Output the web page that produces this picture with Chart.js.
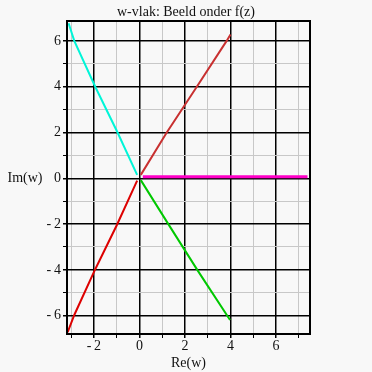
<!DOCTYPE html>
<html>
<head>
<meta charset="utf-8">
<script src="https://cdn.jsdelivr.net/npm/chart.js@4/dist/chart.umd.min.js"></script>
<style>
  html, body { margin: 0; padding: 0; background: #f8f8f8; }
  #wrap { width: 372px; height: 372px; }
</style>
</head>
<body>
<div id="wrap"><canvas id="plot" width="372" height="372"></canvas></div>
<script>
// curve samples (Re, Im)
const cyanRe = [-0.1, -0.96, -1.94, -2.86, -3.11];
const cyanIm = [0.15, 2, 4, 6, 6.77];

const redUpRe = [0.06, 1.2, 2.52, 3.83, 4.0];
const redUpIm = [0.15, 2, 4, 6, 6.28];

const redLowRe = [-0.1, -0.99, -1.94, -2.86, -3.15];
const redLowIm = [-0.1, -2.04, -3.97, -5.97, -6.72];

const greenRe = [0.06, 1.27, 2.54, 3.98];
const greenIm = [-0.08, -2, -4, -6.19];

const magentaRe = [0.15, 7.38];
const magentaIm = [0.07, 0.07];

const xRange = [-3.18, 7.49];
const yRange = [-6.8, 6.87];

const titleText = 'w-vlak: Beeld onder f(z)';

function pts(xs, ys) {
    return xs.map((x, i) => ({ x: x, y: ys[i] }));
}

function makeLine(xs, ys, color, width) {
    return {
        data: pts(xs, ys),
        showLine: true,
        borderColor: color,
        borderWidth: width,
        pointRadius: 0,
        fill: false,
        tension: 0
    };
}

function fmt(v) {
    if (v % 2 !== 0) return '';
    return v < 0 ? '-\u2009' + Math.abs(v) : String(v);
}

const serif = 'Liberation Serif, DejaVu Serif, serif';

const gridColor = ctx => (ctx.tick && ctx.tick.value % 2 === 0) ? '#000000' : '#c8c8c8';
const gridWidth = ctx => (ctx.tick && ctx.tick.value % 2 === 0) ? 1.5 : 1;

// title centred on the whole canvas + horizontal Im(w) label, Maple style
const texts = {
    id: 'texts',
    afterDraw(chart) {
        const c = chart.ctx;
        const a = chart.chartArea;
        c.save();
        c.font = '14px ' + serif;
        c.fillStyle = '#111';
        c.textAlign = 'center';
        c.textBaseline = 'middle';
        c.fillText(titleText, chart.width / 2, 12);
        c.fillText('Im(w)', 25, (a.top + a.bottom) / 2 + 1);
        c.restore();
    }
};

const border = {
    id: 'border',
    afterDraw(chart) {
        const c = chart.ctx;
        const a = chart.chartArea;
        c.save();
        c.strokeStyle = '#000';
        c.lineWidth = 2;
        c.strokeRect(a.left, a.top, a.right - a.left, a.bottom - a.top);
        c.restore();
    }
};

new Chart(document.getElementById('plot'), {
    type: 'scatter',
    data: {
        datasets: [
            makeLine(cyanRe, cyanIm, '#00f5d8', 2),
            makeLine(redUpRe, redUpIm, '#c83030', 2),
            makeLine(redLowRe, redLowIm, '#dd0000', 2),
            makeLine(greenRe, greenIm, '#00c800', 2),
            makeLine(magentaRe, magentaIm, '#ff00c8', 3)
        ]
    },
    options: {
        responsive: false,
        animation: false,
        layout: { padding: { left: 0, right: 62, top: 21, bottom: 0 } },
        plugins: {
            legend: { display: false },
            tooltip: { enabled: false },
            title: { display: false }
        },
        scales: {
            x: {
                type: 'linear',
                min: xRange[0],
                max: xRange[1],
                afterFit(scale) { scale.height = 38; },
                afterBuildTicks(scale) {
                    const t = [];
                    for (let v = -3; v <= 7; v++) t.push({ value: v });
                    scale.ticks = t;
                },
                grid: {
                    color: gridColor,
                    lineWidth: gridWidth,
                    tickColor: '#000',
                    tickLength: 4
                },
                border: { display: false },
                ticks: {
                    autoSkip: false,
                    maxRotation: 0,
                    padding: 0,
                    color: '#111',
                    font: { family: serif, size: 14 },
                    callback: v => fmt(v)
                },
                title: {
                    display: true,
                    text: 'Re(w)',
                    color: '#111',
                    font: { family: serif, size: 14 },
                    padding: { top: 0, bottom: 0 }
                }
            },
            y: {
                type: 'linear',
                min: yRange[0],
                max: yRange[1],
                afterFit(scale) { scale.width = 67; },
                afterBuildTicks(scale) {
                    const t = [];
                    for (let v = -6; v <= 6; v++) t.push({ value: v });
                    scale.ticks = t;
                },
                grid: {
                    color: gridColor,
                    lineWidth: gridWidth,
                    tickColor: '#000',
                    tickLength: 4
                },
                border: { display: false },
                ticks: {
                    autoSkip: false,
                    padding: 2,
                    color: '#111',
                    font: { family: serif, size: 14 },
                    callback: v => fmt(v)
                }
            }
        }
    },
    plugins: [texts, border]
});
</script>
</body>
</html>
